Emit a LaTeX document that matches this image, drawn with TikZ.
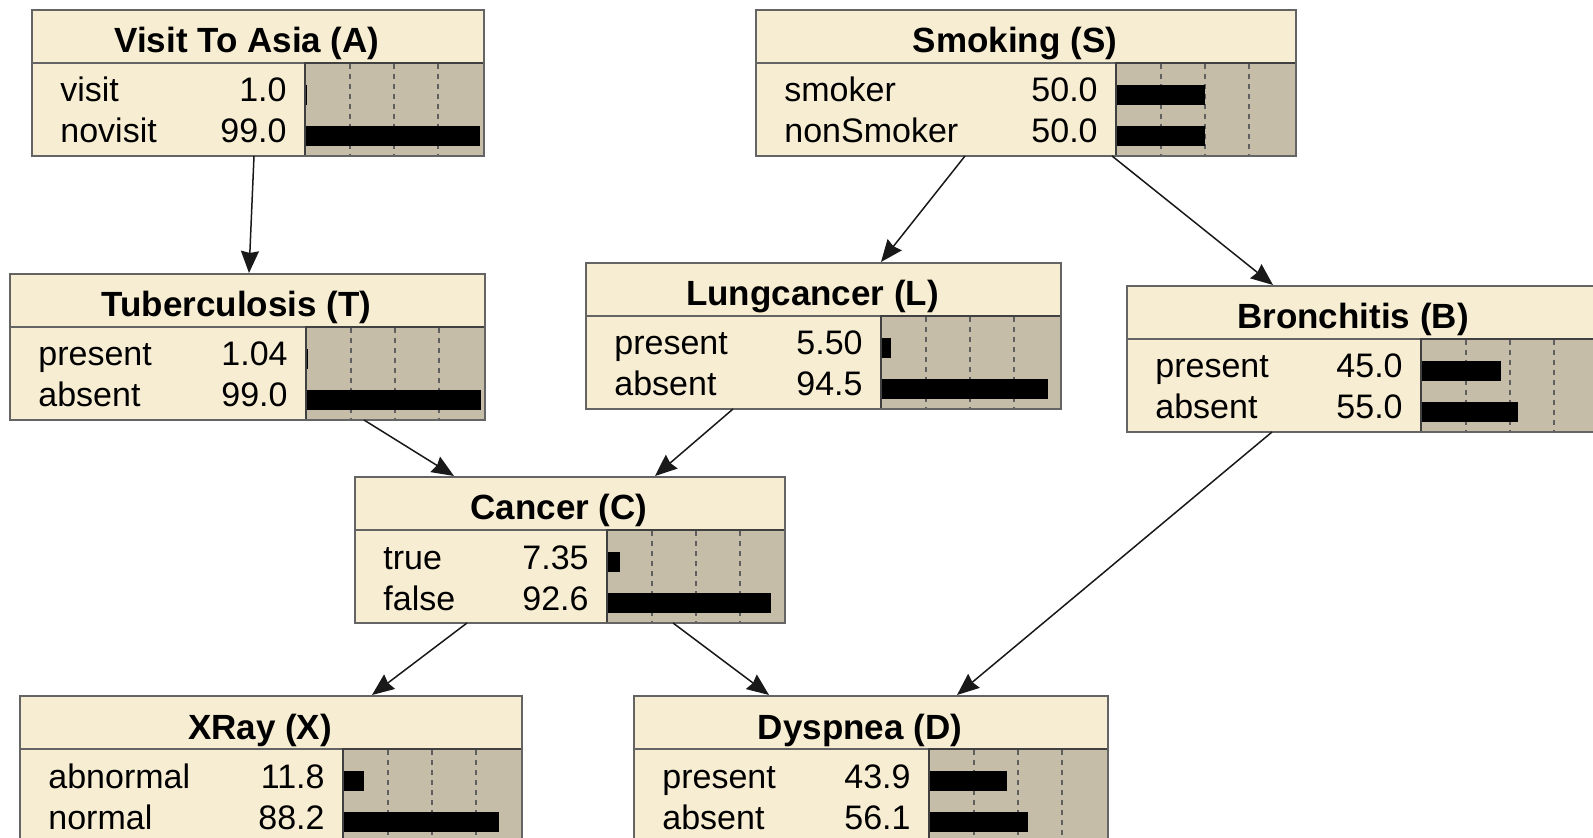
\documentclass[tikz,border=0pt]{standalone}
\usepackage{fontspec}
\setmainfont{Liberation Sans}
\usetikzlibrary{arrows.meta,calc}
\definecolor{cream}{RGB}{247,237,211}
\definecolor{barbg}{RGB}{198,189,168}
\definecolor{edge}{RGB}{100,100,100}
\definecolor{gridc}{RGB}{95,95,95}
\tikzset{
  boxframe/.style={draw=edge, line width=1pt, inner sep=0pt, outer sep=0pt, rectangle},
  titletext/.style={font=\bfseries\fontsize{17.5}{19}\selectfont, inner sep=0pt},
  statetext/.style={font=\fontsize{17}{18}\selectfont, inner sep=0pt},
  gridline/.style={draw=gridc, line width=1pt, dash pattern=on 2.5pt off 2.5pt},
  link/.style={draw=black!90, line width=0.75pt, -{Stealth[length=11pt,width=9pt,inset=1pt]}},
}

% Belief box: #1 name, #2 left, #3 top, #4 width, #5 offset of the bar area,
% #6 title, #7 list of state/percentage pairs
\newcommand\bnbox[7]{%
\begin{scope}[shift={(#2,#3)}]
  \fill[cream] (0,0) rectangle (#4,146);
  \fill[barbg] (#5,53) rectangle (#4,146);
  \foreach \g in {0.25,0.5,0.75}
    \draw[gridline] ({#5+1+176*\g},54) -- ({#5+1+176*\g},146);
  \foreach \sname/\sval [count=\i] in {#7} {
    \fill[black] (#5,{34+41*\i}) rectangle ({#5+1.77*\sval},{54+41*\i});
    \node[statetext, anchor=base west] at (28,{51+41*\i}) {\sname};
    \node[statetext, anchor=base east] at ({#5-18},{51+41*\i}) {\sval};
  }
  \draw[edge, line width=1pt] (0,53) -- (#4,53);
  \draw[black!75, line width=1pt] (#5,146) -- (#5,53) -- (#4,53);
  \node[titletext, anchor=base] at ({#4/2-11},43) {#6};
  \node[boxframe, anchor=north west, minimum width=#4*0.5pt, minimum height=73pt] (#1) at (0,0) {};
\end{scope}}

\begin{document}
\begin{tikzpicture}[x=0.5pt,y=-0.5pt]
\useasboundingbox (0,0) rectangle (1593,838);
\clip (0,0) rectangle (1593,838);
\fill[white] (0,0) rectangle (1593,838);

\bnbox{A}{32}{10}{452}{273}{Visit To Asia (A)}{visit/1.0, novisit/99.0}
\bnbox{S}{756}{10}{540}{360}{Smoking (S)}{smoker/50.0, nonSmoker/50.0}
\bnbox{T}{10}{274}{475}{296}{Tuberculosis (T)}{present/1.04, absent/99.0}
\bnbox{L}{586}{263}{475}{295}{Lungcancer (L)}{present/5.50, absent/94.5}
\bnbox{B}{1127}{286}{474}{294}{Bronchitis (B)}{present/45.0, absent/55.0}
\bnbox{C}{355}{477}{430}{252}{Cancer (C)}{true/7.35, false/92.6}
\bnbox{X}{20}{696}{502}{323}{XRay (X)}{abnormal/11.8, normal/88.2}
\bnbox{D}{634}{696}{474}{295}{Dyspnea (D)}{present/43.9, absent/56.1}

\draw[link] ($(A.south west)+(222,0)$) -- ($(T.north west)+(239,-1)$);
\draw[link] ($(S.south west)+(209,0)$) -- ($(L.north west)+(295,-1)$);
\draw[link] ($(S.south west)+(356,0)$) -- ($(B.north west)+(146,-1)$);
\draw[link] ($(T.south west)+(354,0)$) -- ($(C.north west)+(99,-1)$);
\draw[link] ($(L.south west)+(147,0)$) -- ($(C.north west)+(300,-1)$);
\draw[link] ($(B.south west)+(145,0)$) -- ($(D.north west)+(323,-1)$);
\draw[link] ($(C.south west)+(112,0)$) -- ($(X.north west)+(352,-1)$);
\draw[link] ($(C.south west)+(318,0)$) -- ($(D.north west)+(135,-1)$);
\end{tikzpicture}
\end{document}
